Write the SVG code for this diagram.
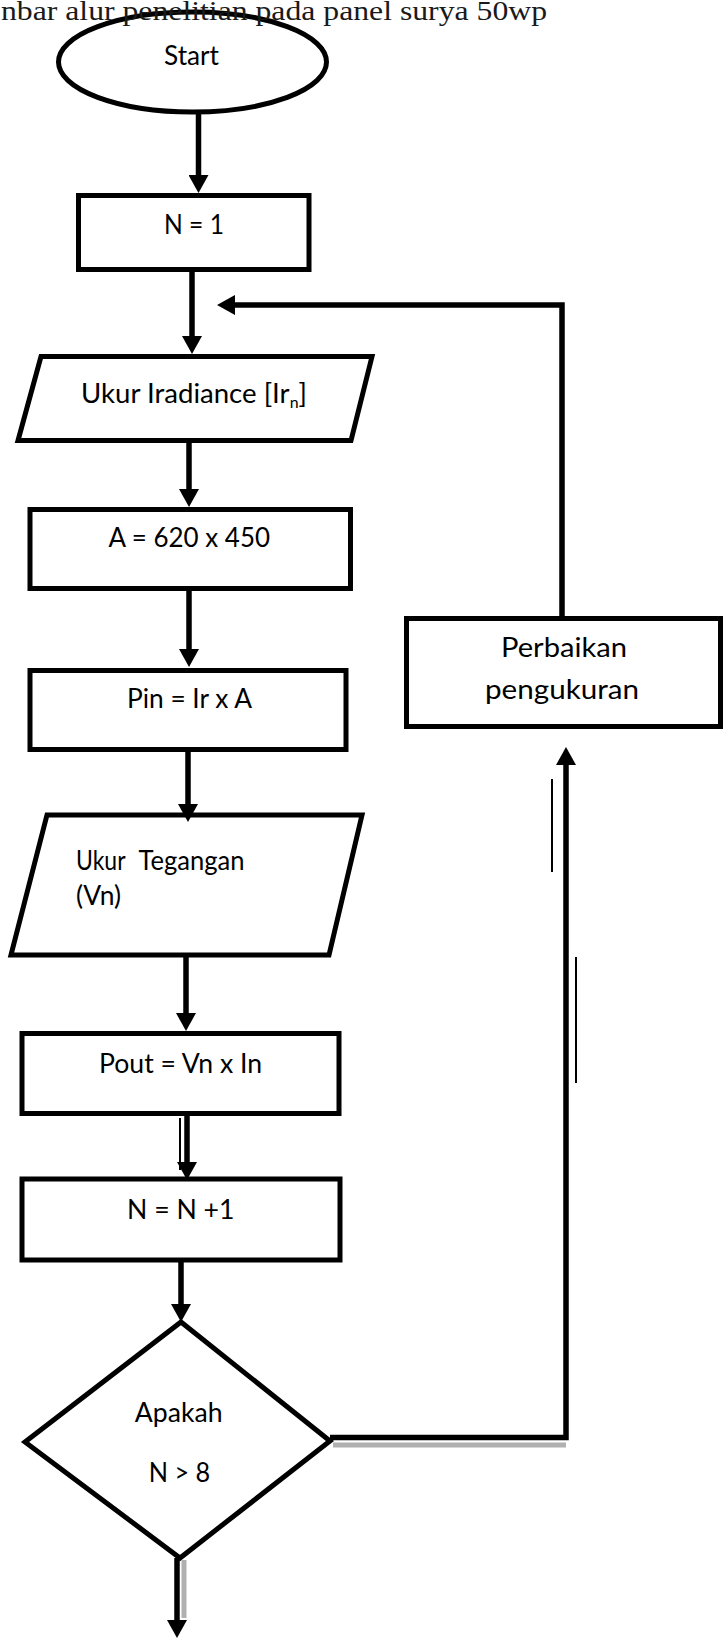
<svg xmlns="http://www.w3.org/2000/svg" width="724" height="1651" viewBox="0 0 724 1651">
  <style>
    .shape { fill: #ffffff; stroke: #000000; stroke-width: 5; stroke-linejoin: miter; }
    .label { font-family: Lato, "Open Sans", "Liberation Sans", sans-serif; font-size: 26px; fill: #000000; }
    .title { font-family: "Liberation Serif", "Times New Roman", serif; font-size: 28px; fill: #1a1a1a; }
    .conn { fill: none; stroke: #000000; stroke-width: 5.5; stroke-linejoin: miter; }
    .thin { fill: none; stroke: #000000; stroke-width: 2; }
    .ghost { fill: none; stroke: #b0b0b0; stroke-width: 5; }
  </style>
  <defs>
    <marker id="arrow" viewBox="0 0 18 20" refX="0" refY="10" markerWidth="18" markerHeight="20" markerUnits="userSpaceOnUse" orient="auto">
      <path d="M0,0 L18,10 L0,20 z" fill="#000000"/>
    </marker>
  </defs>
  <rect x="0" y="0" width="724" height="1651" fill="#ffffff"/>

  <g id="start">
    <ellipse cx="192.5" cy="62" rx="134" ry="50" fill="none" stroke="#000000" stroke-width="5"/>
    <text class="label" x="164" y="65" textLength="55" lengthAdjust="spacingAndGlyphs">Start</text>
  </g>

  <g id="title">
    <text class="title" x="1" y="20" textLength="546" lengthAdjust="spacingAndGlyphs">nbar alur penelitian pada panel surya 50wp</text>
  </g>

  <g id="n1">
    <rect class="shape" x="78.5" y="195.5" width="230.5" height="74"/>
    <text class="label" x="164" y="234" textLength="60" lengthAdjust="spacingAndGlyphs">N = 1</text>
  </g>

  <g id="ukur-iradiance">
    <polygon class="shape" points="41,356.5 372,356.5 351,440.5 18,440.5"/>
    <text class="label" x="81" y="403" textLength="226" lengthAdjust="spacingAndGlyphs">Ukur Iradiance [Ir<tspan font-size="15" dy="5">n</tspan><tspan dy="-5">]</tspan></text>
  </g>

  <g id="luas">
    <rect class="shape" x="30" y="509.5" width="320.5" height="79"/>
    <text class="label" x="108.5" y="547" textLength="161.5" lengthAdjust="spacingAndGlyphs">A = 620 x 450</text>
  </g>

  <g id="pin">
    <rect class="shape" x="30" y="670.5" width="316" height="79"/>
    <text class="label" x="127" y="708" textLength="125" lengthAdjust="spacingAndGlyphs">Pin = Ir x A</text>
  </g>

  <g id="perbaikan">
    <rect class="shape" x="406.5" y="618.5" width="314" height="108"/>
    <text class="label" x="501" y="657" textLength="126" lengthAdjust="spacingAndGlyphs">Perbaikan</text>
    <text class="label" x="485" y="699" textLength="154" lengthAdjust="spacingAndGlyphs">pengukuran</text>
  </g>

  <g id="ukur-tegangan">
    <polygon class="shape" points="47,815 362,815 329,955 11,955"/>
    <text class="label" x="76" y="870" textLength="49.5" lengthAdjust="spacingAndGlyphs">Ukur</text>
    <text class="label" x="138.5" y="870" textLength="106" lengthAdjust="spacingAndGlyphs">Tegangan</text>
    <text class="label" x="76" y="905" textLength="45" lengthAdjust="spacingAndGlyphs">(Vn)</text>
  </g>

  <g id="pout">
    <rect class="shape" x="22" y="1033.5" width="317" height="80"/>
    <text class="label" x="99" y="1073" textLength="163" lengthAdjust="spacingAndGlyphs">Pout = Vn x In</text>
  </g>

  <g id="increment">
    <rect class="shape" x="22" y="1179" width="318" height="81"/>
    <text class="label" x="127" y="1219" textLength="107.5" lengthAdjust="spacingAndGlyphs">N = N +1</text>
  </g>

  <g id="decision">
    <polygon class="shape" points="181,1322 330,1441 180,1558 25,1442"/>
    <text class="label" x="134.8" y="1421.5" textLength="87.7" lengthAdjust="spacingAndGlyphs">Apakah</text>
    <text class="label" x="148.7" y="1481.5" textLength="61.4" lengthAdjust="spacingAndGlyphs">N &gt; 8</text>
  </g>

  <g id="connectors">
    <path class="conn" d="M198.5,112 V175" marker-end="url(#arrow)"/>
    <path class="conn" d="M192,272 V336" marker-end="url(#arrow)"/>
    <path class="conn" d="M189,443 V489" marker-end="url(#arrow)"/>
    <path class="conn" d="M189,591 V649" marker-end="url(#arrow)"/>
    <path class="conn" d="M188,752 V804" marker-end="url(#arrow)"/>
    <path class="conn" d="M186,957 V1013" marker-end="url(#arrow)"/>
    <path class="conn" d="M187,1116 V1162" marker-end="url(#arrow)"/>
    <path class="thin" d="M180,1118 V1170"/>
    <path class="conn" d="M181,1262 V1304" marker-end="url(#arrow)"/>
    <path class="conn" stroke-width="8" d="M177,1558 V1620" marker-end="url(#arrow)"/>
    <path class="ghost" stroke-width="3" d="M184,1560 V1618"/>
    <path class="ghost" d="M333,1445 H566"/>
    <path class="conn" stroke-width="6.5" d="M330,1437.5 H566 V765" marker-end="url(#arrow)"/>
    <path class="thin" d="M552,779 V872"/>
    <path class="thin" d="M576,957 V1083"/>
    <path class="conn" stroke-width="6.5" d="M562,618 V305 H235" marker-end="url(#arrow)"/>
  </g>
</svg>
